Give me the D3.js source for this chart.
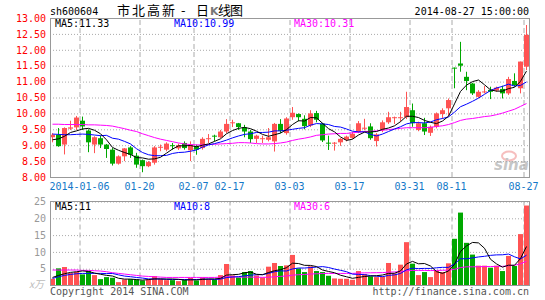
<!DOCTYPE html>
<html>
<head>
<meta charset="utf-8">
<script src="https://cdn.jsdelivr.net/npm/d3@7"></script>
<style>
body { margin: 0; background: #fff; }
.mono { font-family: "DejaVu Sans Mono", monospace; font-size: 10px; }
.frame { fill: none; stroke: #999; stroke-width: 1; }
.hgrid line { stroke: #aaa; stroke-dasharray: 1,2; }
.vgrid line { stroke: #aaa; stroke-dasharray: 5,3; }
.maLine { fill: none; stroke-width: 1; }
</style>
</head>
<body>
<script>
(function(){

//trading days shown on the chart
var dates = ["2013-12-27","2013-12-30","2013-12-31","2014-01-02","2014-01-03",
    "2014-01-06","2014-01-07","2014-01-08","2014-01-09","2014-01-10",
    "2014-01-13","2014-01-14","2014-01-15","2014-01-16","2014-01-17",
    "2014-01-20","2014-01-21","2014-01-22","2014-01-23","2014-01-24",
    "2014-01-27","2014-01-28","2014-01-29","2014-01-30","2014-02-07",
    "2014-02-10","2014-02-11","2014-02-12","2014-02-13","2014-02-14",
    "2014-02-17","2014-02-18","2014-02-19","2014-02-20","2014-02-21",
    "2014-02-24","2014-02-25","2014-02-26","2014-02-27","2014-02-28",
    "2014-03-03","2014-03-04","2014-03-05","2014-03-06","2014-03-07",
    "2014-03-10","2014-03-11","2014-03-12","2014-03-13","2014-03-14",
    "2014-03-17","2014-03-18","2014-03-19","2014-03-20","2014-03-21",
    "2014-03-24","2014-03-25","2014-03-26","2014-03-27","2014-03-28",
    "2014-03-31","2014-04-01","2014-04-02","2014-04-03","2014-04-04",
    "2014-08-07","2014-08-08","2014-08-11","2014-08-12","2014-08-13",
    "2014-08-14","2014-08-15","2014-08-18","2014-08-19","2014-08-20",
    "2014-08-21","2014-08-22","2014-08-25","2014-08-26","2014-08-27"];

//daily prices
var opens = [9.25,9.33,9.02,9.52,9.56,9.77,9.46,9.02,9.22,9.02,
    8.86,8.42,8.65,8.93,8.67,8.53,8.34,8.45,8.93,8.86,
    9.00,8.90,9.07,8.84,8.97,8.91,9.20,9.30,9.25,9.43,
    9.70,9.69,9.56,9.43,9.20,9.20,9.17,9.12,9.67,9.38,
    9.88,9.98,9.83,9.62,10.01,9.68,9.08,9.06,9.09,9.17,
    9.23,9.41,9.53,9.59,9.13,9.49,9.72,9.86,9.86,9.88,
    10.10,9.48,9.69,9.39,9.58,9.98,10.16,11.44,11.57,11.15,
    10.94,10.52,10.67,10.74,10.72,10.77,10.63,11.02,10.79,11.47];
var highs = [9.38,9.54,9.56,9.77,9.92,9.90,9.50,9.28,9.30,9.04,
    8.91,8.68,8.91,8.97,8.76,8.55,8.50,8.97,9.02,9.09,
    9.07,9.05,9.12,9.12,9.02,9.25,9.35,9.33,9.48,9.82,
    9.80,9.70,9.64,9.48,9.33,9.30,9.54,9.70,9.82,9.88,
    10.20,10.00,9.94,10.10,10.08,9.70,9.30,9.10,9.22,9.30,
    9.42,9.76,9.83,9.69,9.38,9.78,10.05,9.90,10.05,10.68,
    10.31,9.74,9.86,9.62,10.03,10.16,10.47,11.44,12.25,11.31,
    10.96,10.73,10.86,10.84,10.84,10.87,11.15,11.26,11.63,12.78];
var lows = [9.09,8.95,8.71,9.48,9.48,9.48,8.78,8.75,8.91,8.60,
    8.36,8.39,8.50,8.60,8.29,8.15,8.31,8.39,8.81,8.81,
    8.86,8.85,8.86,8.50,8.70,8.86,9.07,9.12,9.22,9.38,
    9.57,9.48,9.25,9.07,9.07,9.07,9.12,8.80,9.38,9.33,
    9.80,9.75,9.50,9.57,9.72,9.10,8.85,8.83,8.98,9.12,
    9.20,9.38,9.47,9.17,8.96,9.41,9.67,9.67,9.74,9.82,
    9.58,9.44,9.32,9.29,9.53,9.84,9.93,10.79,11.31,10.73,
    10.58,10.49,10.63,10.45,10.68,10.47,10.58,10.84,10.63,11.36];
var closes = [9.33,8.97,9.54,9.56,9.87,9.59,9.09,9.25,9.02,8.88,
    8.42,8.65,8.90,8.70,8.39,8.34,8.47,8.93,8.95,9.05,
    8.98,9.00,8.91,9.02,8.86,9.20,9.22,9.28,9.43,9.67,
    9.72,9.57,9.43,9.19,9.30,9.22,9.25,9.67,9.45,9.84,
    10.02,9.88,9.60,10.00,9.80,9.15,9.06,9.08,9.20,9.27,
    9.36,9.69,9.55,9.22,9.34,9.72,9.88,9.88,9.88,10.20,
    9.69,9.69,9.43,9.58,10.00,10.10,10.42,11.42,11.50,11.02,
    10.63,10.68,10.69,10.68,10.81,10.63,11.08,10.89,11.63,12.47];

//price moving averages
var ma5 = [9.17,9.20,9.28,9.40,9.45,9.51,9.53,9.47,9.36,9.17,
    8.93,8.84,8.77,8.71,8.61,8.60,8.56,8.57,8.62,8.75,
    8.88,8.98,8.98,8.99,8.95,9.00,9.04,9.12,9.20,9.36,
    9.46,9.53,9.56,9.52,9.44,9.34,9.28,9.33,9.38,9.49,
    9.65,9.77,9.76,9.87,9.86,9.69,9.52,9.42,9.26,9.15,
    9.19,9.32,9.41,9.42,9.43,9.50,9.54,9.61,9.74,9.91,
    9.91,9.87,9.78,9.72,9.68,9.76,9.91,10.30,10.69,10.89,
    11.00,11.05,10.90,10.74,10.70,10.70,10.78,10.82,11.01,11.33];
var ma10 = [9.35,9.34,9.33,9.33,9.34,9.35,9.34,9.32,9.30,9.31,
    9.22,9.19,9.12,9.04,8.89,8.77,8.70,8.67,8.67,8.68,
    8.74,8.77,8.78,8.81,8.85,8.94,9.01,9.05,9.10,9.16,
    9.23,9.29,9.34,9.36,9.40,9.40,9.41,9.45,9.45,9.47,
    9.50,9.53,9.55,9.63,9.68,9.67,9.65,9.59,9.57,9.51,
    9.44,9.42,9.42,9.34,9.29,9.35,9.43,9.51,9.58,9.67,
    9.71,9.71,9.70,9.73,9.80,9.84,9.89,10.04,10.21,10.29,
    10.38,10.48,10.60,10.72,10.80,10.85,10.92,10.86,10.88,10.99];
var ma30 = [9.66,9.66,9.65,9.65,9.65,9.65,9.64,9.64,9.63,9.62,
    9.60,9.56,9.52,9.47,9.43,9.36,9.30,9.24,9.19,9.15,
    9.11,9.07,9.04,9.02,9.01,9.01,9.02,9.03,9.04,9.05,
    9.06,9.08,9.08,9.07,9.05,9.04,9.04,9.05,9.07,9.10,
    9.15,9.19,9.22,9.26,9.31,9.33,9.35,9.36,9.37,9.37,
    9.39,9.41,9.43,9.44,9.45,9.47,9.49,9.51,9.53,9.55,
    9.55,9.55,9.55,9.56,9.59,9.61,9.65,9.71,9.78,9.82,
    9.84,9.87,9.90,9.92,9.96,10.01,10.07,10.13,10.22,10.31];

//volume, in 10k shares
var volumes = [2.0,5.1,5.5,3.7,4.1,3.3,4.3,3.1,1.9,2.5,
    2.3,1.0,1.8,1.9,1.8,1.5,1.8,2.8,1.9,1.6,
    1.6,1.3,1.6,2.3,1.5,2.4,1.9,1.7,3.1,6.4,
    3.0,2.4,4.0,4.3,3.0,2.4,5.6,6.7,5.8,6.0,
    9.1,5.1,4.0,5.7,4.3,4.0,2.9,2.1,2.0,2.0,
    1.7,4.3,3.4,2.7,2.5,2.7,6.7,3.6,6.2,12.9,
    6.5,3.1,4.0,2.5,4.5,4.0,6.6,13.9,21.7,12.7,
    9.2,5.9,5.9,5.3,5.9,4.3,8.8,5.8,15.3,23.8];
var volMa5 = [2.4,3.0,3.5,3.9,4.08,4.34,4.18,3.70,3.34,3.02,
    2.82,2.16,1.90,1.90,1.76,1.60,1.76,1.96,1.96,1.92,
    1.94,1.84,1.60,1.68,1.66,1.82,1.94,1.96,2.12,3.10,
    3.22,3.32,3.78,4.02,3.34,3.22,3.86,4.40,4.70,5.30,
    6.64,6.54,6.00,5.98,5.64,4.62,4.18,3.80,3.06,2.60,
    2.14,2.42,2.68,2.82,2.92,3.12,3.60,3.64,4.34,6.42,
    7.18,6.46,6.54,5.80,4.12,3.62,4.32,6.30,10.14,11.78,
    12.82,12.68,11.08,7.80,6.44,5.46,6.04,6.02,8.02,11.60];
var volMa10 = [2.1,2.6,3.0,3.3,3.5,3.6,3.6,3.6,3.6,3.55,
    3.58,3.17,2.80,2.62,2.39,2.21,1.96,1.93,1.93,1.84,
    1.77,1.80,1.78,1.82,1.79,1.88,1.89,1.78,1.90,2.38,
    2.52,2.63,2.87,3.07,3.22,3.22,3.59,4.09,4.36,4.32,
    4.93,5.20,5.20,5.34,5.47,5.63,5.36,4.90,4.52,4.12,
    3.38,3.30,3.24,2.94,2.76,2.63,3.01,3.16,3.58,4.67,
    5.15,5.03,5.09,5.07,5.27,5.40,5.39,6.42,7.97,7.95,
    8.22,8.50,8.69,8.97,9.11,9.14,9.36,8.55,7.91,9.02];
var volMa30 = [4.6,4.6,4.6,4.6,4.6,4.5,4.5,4.4,4.3,4.1,
    3.8,3.6,3.4,3.2,3.0,2.8,2.7,2.6,2.5,2.4,
    2.4,2.4,2.4,2.4,2.4,2.4,2.4,2.4,2.5,2.59,
    2.62,2.53,2.48,2.50,2.46,2.43,2.47,2.59,2.72,2.84,
    3.07,3.21,3.28,3.41,3.49,3.57,3.61,3.59,3.59,3.60,
    3.60,3.70,3.76,3.78,3.81,3.82,3.98,4.04,4.15,4.36,
    4.48,4.50,4.50,4.44,4.49,4.54,4.57,4.81,5.34,5.56,
    5.56,5.59,5.65,5.64,5.69,5.70,5.90,6.02,6.46,7.19];

//axis ticks
var priceTicks = [8, 8.5, 9, 9.5, 10, 10.5, 11, 11.5, 12, 12.5, 13];
var volTicks = [5, 10, 15, 20, 25];
var tickDates = ["2014-01-06","2014-01-20","2014-02-07","2014-02-17","2014-03-03",
    "2014-03-17","2014-03-31","2014-08-11","2014-08-27"];
var tickLabels = ["2014-01-06","01-20","02-07","02-17","03-03","03-17","03-31","08-11","08-27"];

var upColor = "#ff5353",
    downColor = "#00a800";

window.onload = setChart();

function setChart(){
    var width = 545, height = 300;
    var left = 50, right = 529,
        pTop = 18, pBottom = 177,
        vTop = 201.5, vBottom = 285.5;

    var svg = d3.select("body")
        .append("svg")
        .attr("width", width)
        .attr("height", height);

    //x scale, one band per trading day
    var x = d3.scaleBand()
        .domain(dates)
        .range([left, right])
        .paddingInner(1/6)
        .paddingOuter(0);
    var half = x.bandwidth() / 2;

    var y = d3.scaleLinear().domain([8, 13]).range([pBottom, pTop]);
    var yv = d3.scaleLinear().domain([0, 25]).range([vBottom, vTop]);

    //sina watermark
    var wm = svg.append("g").attr("opacity", 0.55);
    wm.append("ellipse")
        .attr("cx", 509).attr("cy", 156)
        .attr("rx", 7).attr("ry", 4.5)
        .attr("fill", "none")
        .attr("stroke", "#f08a8a")
        .attr("stroke-width", 2);
    wm.append("text")
        .attr("x", 494).attr("y", 170)
        .attr("fill", "#999")
        .style("font-family", "DejaVu Sans")
        .style("font-size", "15px")
        .style("font-weight", "bold")
        .style("font-style", "italic")
        .text("sina");

    //horizontal grid + price labels
    var pAxis = svg.append("g")
        .attr("class", "hgrid mono")
        .attr("transform", "translate(" + left + ",0)")
        .call(d3.axisLeft(y)
            .tickValues(priceTicks)
            .tickSize(-(right - left))
            .tickPadding(4)
            .tickFormat(d3.format(".2f")));
    pAxis.select(".domain").remove();
    pAxis.selectAll("text").attr("fill", "#ff0000").style("font-family", "DejaVu Sans Mono").style("font-size", "10px");

    var vAxis = svg.append("g")
        .attr("class", "hgrid mono")
        .attr("transform", "translate(" + left + ",0)")
        .call(d3.axisLeft(yv)
            .tickValues(volTicks)
            .tickSize(-(right - left))
            .tickPadding(4)
            .tickFormat(d3.format("d")));
    vAxis.select(".domain").remove();
    vAxis.selectAll("text").attr("fill", "#999").style("font-family", "DejaVu Sans Mono").style("font-size", "10px");

    //vertical dashed grid on both panels
    [[pTop, pBottom], [vTop, vBottom]].forEach(function(p){
        var g = svg.append("g")
            .attr("class", "vgrid")
            .attr("transform", "translate(" + (-half) + "," + p[1] + ")")
            .call(d3.axisBottom(x)
                .tickValues(tickDates)
                .tickSize(-(p[1] - p[0]))
                .tickFormat(""));
        g.select(".domain").remove();
    });

    //date labels
    var dAxis = svg.append("g")
        .attr("transform", "translate(" + (-half - 0.5) + "," + pBottom + ")")
        .call(d3.axisBottom(x)
            .tickValues(tickDates)
            .tickSize(0)
            .tickPadding(6)
            .tickFormat(function(d){ return tickLabels[tickDates.indexOf(d)]; }));
    dAxis.select(".domain").remove();
    dAxis.selectAll("text").attr("fill", "#1478c8").style("font-family", "DejaVu Sans Mono").style("font-size", "10px");

    //candles
    var idx = d3.range(dates.length);
    var candles = svg.append("g").selectAll("g")
        .data(idx)
        .enter()
        .append("g");
    candles.append("line")
        .attr("x1", function(i){ return x(dates[i]) + 2.5; })
        .attr("x2", function(i){ return x(dates[i]) + 2.5; })
        .attr("y1", function(i){ return y(highs[i]); })
        .attr("y2", function(i){ return y(lows[i]); })
        .attr("stroke", function(i){ return closes[i] >= opens[i] ? upColor : downColor; });
    candles.append("rect")
        .attr("x", function(i){ return x(dates[i]); })
        .attr("width", x.bandwidth())
        .attr("y", function(i){ return y(Math.max(opens[i], closes[i])); })
        .attr("height", function(i){ return Math.max(1, Math.abs(y(opens[i]) - y(closes[i]))); })
        .attr("fill", function(i){ return closes[i] >= opens[i] ? upColor : downColor; });

    //volume bars
    svg.append("g").selectAll("rect")
        .data(idx)
        .enter()
        .append("rect")
        .attr("x", function(i){ return x(dates[i]); })
        .attr("width", x.bandwidth())
        .attr("y", function(i){ return yv(volumes[i]); })
        .attr("height", function(i){ return yv(0) - yv(volumes[i]); })
        .attr("fill", function(i){ return closes[i] >= opens[i] ? upColor : downColor; });

    //moving average lines
    function drawLine(values, scale, color){
        var line = d3.line()
            .x(function(d, i){ return x(dates[i]) + 2.5; })
            .y(function(d){ return scale(d); });
        svg.append("path")
            .datum(values)
            .attr("class", "maLine")
            .attr("stroke", color)
            .attr("d", line);
    }
    drawLine(ma30, y, "#ff00ff");
    drawLine(ma10, y, "#0000ff");
    drawLine(ma5, y, "#000000");
    drawLine(volMa30, yv, "#ff00ff");
    drawLine(volMa10, yv, "#0000ff");
    drawLine(volMa5, yv, "#000000");

    //panel frames
    svg.append("rect").attr("class", "frame")
        .attr("x", left + 0.5).attr("y", pTop + 0.5)
        .attr("width", right - left).attr("height", pBottom - pTop);
    svg.append("rect").attr("class", "frame")
        .attr("x", left + 0.5).attr("y", vTop)
        .attr("width", right - left).attr("height", vBottom - vTop);

    //legend texts
    var labels = [
        [55, 27, "#000", "MA5:11.33"],
        [174, 27, "#0000ff", "MA10:10.99"],
        [294, 27, "#ff00ff", "MA30:10.31"],
        [55, 210, "#000", "MA5:11"],
        [174, 210, "#0000ff", "MA10:8"],
        [294, 210, "#ff00ff", "MA30:6"]
    ];
    labels.forEach(function(l){
        svg.append("text")
            .attr("class", "mono")
            .attr("x", l[0]).attr("y", l[1])
            .attr("fill", l[2])
            .text(l[3]);
    });

    //header
    svg.append("text").attr("class", "mono")
        .attr("x", 50).attr("y", 15)
        .attr("fill", "#000")
        .text("sh600604");
    var title = svg.append("text")
        .attr("y", 15)
        .style("font-family", "Noto Sans CJK SC")
        .style("font-size", "13px")
        .attr("fill", "#000");
    title.append("tspan").attr("x", 117).style("letter-spacing", "2px").text("市北高新");
    title.append("tspan").attr("x", 181).text("-");
    title.append("tspan").attr("x", 196).text("日");
    title.append("tspan").attr("x", 210).attr("fill", "#777").style("font-weight", "bold").style("font-family", "DejaVu Sans").style("font-size", "11px").text("K");
    title.append("tspan").attr("x", 218).style("letter-spacing", "-1px").text("线图");
    svg.append("text").attr("class", "mono")
        .attr("x", 529).attr("y", 15)
        .attr("text-anchor", "end")
        .attr("fill", "#000")
        .text("2014-08-27 15:00:00");

    //footer
    svg.append("text")
        .attr("x", 44).attr("y", 288)
        .attr("text-anchor", "end")
        .attr("fill", "#bbb")
        .style("font-family", "Noto Sans CJK SC")
        .style("font-size", "10px")
        .style("font-style", "italic")
        .text("x万");
    svg.append("text").attr("class", "mono")
        .attr("x", 50).attr("y", 295)
        .attr("fill", "#555")
        .text("Copyright 2014 SINA.COM");
    svg.append("text").attr("class", "mono")
        .attr("x", 529).attr("y", 295)
        .attr("text-anchor", "end")
        .attr("fill", "#555")
        .text("http://finance.sina.com.cn");
};

})();
</script>
</body>
</html>
